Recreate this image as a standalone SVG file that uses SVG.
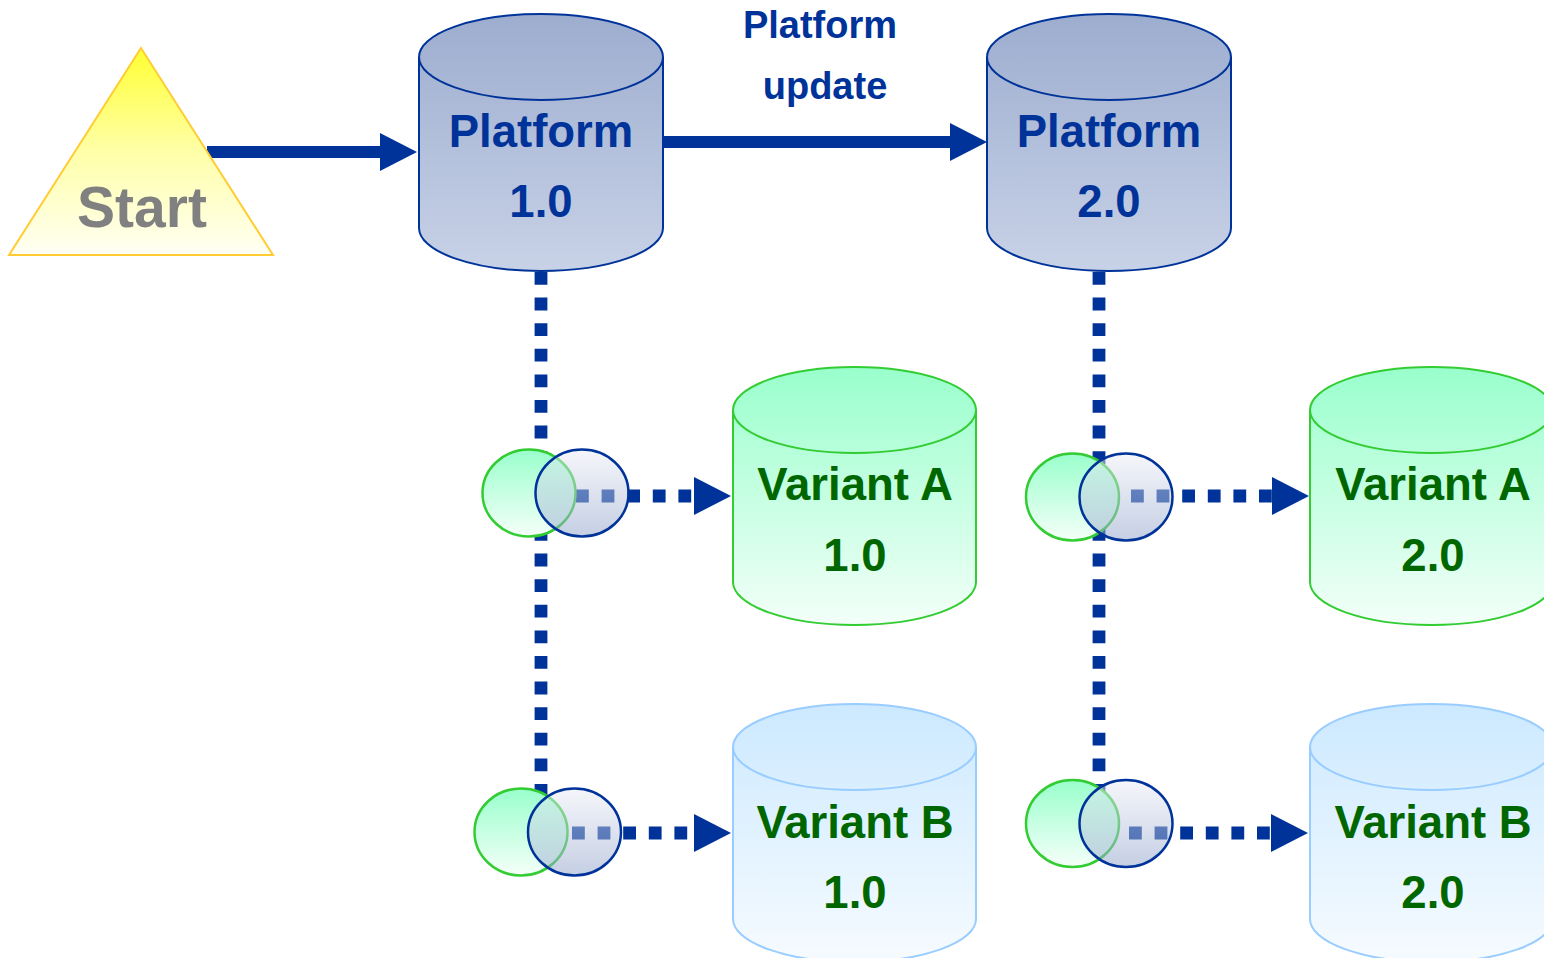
<svg xmlns="http://www.w3.org/2000/svg" width="1544" height="958" viewBox="0 0 1544 958">
<defs>
<linearGradient id="gPlat" x1="0" y1="0" x2="0" y2="1"><stop offset="0" stop-color="#9dadcf"/><stop offset="1" stop-color="#c8d2e7"/></linearGradient>
<linearGradient id="gGreen" x1="0" y1="0" x2="0" y2="1"><stop offset="0" stop-color="#99ffcc"/><stop offset="1" stop-color="#f3fff9"/></linearGradient>
<linearGradient id="gBlue" x1="0" y1="0" x2="0" y2="1"><stop offset="0" stop-color="#cce9ff"/><stop offset="1" stop-color="#f6fbff"/></linearGradient>
<linearGradient id="gStart" x1="0" y1="0" x2="0" y2="1"><stop offset="0" stop-color="#ffff33"/><stop offset="0.5" stop-color="#ffffa8"/><stop offset="1" stop-color="#fffff4"/></linearGradient>
<linearGradient id="gCircG" x1="0" y1="0" x2="0" y2="1"><stop offset="0" stop-color="#99ffcc"/><stop offset="1" stop-color="#f5fff9"/></linearGradient>
<linearGradient id="gCircB" x1="0" y1="0" x2="0" y2="1"><stop offset="0" stop-color="#eceef6"/><stop offset="1" stop-color="#8b9fc8"/></linearGradient>
<marker id="head" markerUnits="userSpaceOnUse" markerWidth="38" markerHeight="38" refX="0" refY="19" orient="auto" viewBox="0 0 38 38"><path d="M0,0 L37,19 L0,38 Z" fill="#003399"/></marker>
<style>
.plat .body{fill:url(#gPlat);stroke:#003399;stroke-width:2}
.plat .rim{fill:none;stroke:#003399;stroke-width:2}
.va .body{fill:url(#gGreen);stroke:#33cc33;stroke-width:2}
.va .rim{fill:none;stroke:#33cc33;stroke-width:2}
.vb .body{fill:url(#gBlue);stroke:#99ccff;stroke-width:2}
.vb .rim{fill:none;stroke:#99ccff;stroke-width:2}
.tp{font-family:"Liberation Sans",Arial,sans-serif;font-weight:bold;font-size:45.5px;fill:#003399;text-anchor:middle}
.tv{font-family:"Liberation Sans",Arial,sans-serif;font-weight:bold;font-size:45.5px;fill:#006600;text-anchor:middle}
.tl{font-family:"Liberation Sans",Arial,sans-serif;font-weight:bold;font-size:38px;fill:#003399;text-anchor:middle}
.solid{stroke:#003399;stroke-width:12;fill:none}
.dot{stroke:#003399;stroke-width:12.8;fill:none;stroke-dasharray:12.8 12.8}
.cg{fill:url(#gCircG);stroke:#33cc33;stroke-width:2.5}
.cb{fill:url(#gCircB);fill-opacity:0.5;stroke:#003399;stroke-width:2.5}
</style>
</defs>
<rect width="1544" height="958" fill="#ffffff"/>

<g id="connectors">
<line class="solid" x1="207" y1="152" x2="380" y2="152" marker-end="url(#head)"/>
<line class="solid" x1="663" y1="142" x2="950" y2="142" marker-end="url(#head)"/>
<line class="dot" x1="541" y1="272" x2="541" y2="800"/>
<line class="dot" x1="1099" y1="272" x2="1099" y2="800"/>
<line class="dot" x1="576" y1="496" x2="694" y2="496" marker-end="url(#head)"/>
<line class="dot" x1="1131" y1="496" x2="1272" y2="496" marker-end="url(#head)"/>
<line class="dot" x1="572" y1="833" x2="694" y2="833" marker-end="url(#head)"/>
<line class="dot" x1="1129" y1="833" x2="1271" y2="833" marker-end="url(#head)"/>
</g>

<g id="label-update">
<text class="tl" x="820" y="38">Platform</text>
<text class="tl" x="825" y="99">update</text>
</g>

<g id="start">
<polygon points="141,48 9,255 273,255" fill="url(#gStart)" stroke="#ffcc33" stroke-width="2"/>
<text x="142" y="227" font-family="'Liberation Sans',Arial,sans-serif" font-weight="bold" font-size="57" fill="#808080" text-anchor="middle">Start</text>
</g>

<g id="platform-1" class="plat">
<path class="body" d="M419,57 A122,43 0 0 1 663,57 L663,228 A122,43 0 0 1 419,228 Z"/>
<path class="rim" d="M419,57 A122,43 0 0 0 663,57"/>
<text class="tp" x="541" y="147">Platform</text>
<text class="tp" x="541" y="217">1.0</text>
</g>

<g id="platform-2" class="plat">
<path class="body" d="M987,57 A122,43 0 0 1 1231,57 L1231,228 A122,43 0 0 1 987,228 Z"/>
<path class="rim" d="M987,57 A122,43 0 0 0 1231,57"/>
<text class="tp" x="1109" y="147">Platform</text>
<text class="tp" x="1109" y="217">2.0</text>
</g>

<g id="variant-a-1" class="va">
<path class="body" d="M733,410 A121.5,43 0 0 1 976,410 L976,582 A121.5,43 0 0 1 733,582 Z"/>
<path class="rim" d="M733,410 A121.5,43 0 0 0 976,410"/>
<text class="tv" x="855" y="500">Variant A</text>
<text class="tv" x="855" y="571">1.0</text>
</g>

<g id="variant-a-2" class="va">
<path class="body" d="M1310,410 A121.5,43 0 0 1 1553,410 L1553,582 A121.5,43 0 0 1 1310,582 Z"/>
<path class="rim" d="M1310,410 A121.5,43 0 0 0 1553,410"/>
<text class="tv" x="1433" y="500">Variant A</text>
<text class="tv" x="1433" y="571">2.0</text>
</g>

<g id="variant-b-1" class="vb">
<path class="body" d="M733,747 A121.5,43 0 0 1 976,747 L976,919 A121.5,43 0 0 1 733,919 Z"/>
<path class="rim" d="M733,747 A121.5,43 0 0 0 976,747"/>
<text class="tv" x="855" y="838">Variant B</text>
<text class="tv" x="855" y="908">1.0</text>
</g>

<g id="variant-b-2" class="vb">
<path class="body" d="M1310,747 A121.5,43 0 0 1 1553,747 L1553,919 A121.5,43 0 0 1 1310,919 Z"/>
<path class="rim" d="M1310,747 A121.5,43 0 0 0 1553,747"/>
<text class="tv" x="1433" y="838">Variant B</text>
<text class="tv" x="1433" y="908">2.0</text>
</g>

<g id="join-a-1">
<ellipse class="cg" cx="529" cy="493" rx="46.5" ry="43.5"/>
<ellipse class="cb" cx="582" cy="493" rx="46.5" ry="43.5"/>
</g>
<g id="join-a-2">
<ellipse class="cg" cx="1072.5" cy="497" rx="46.5" ry="43.5"/>
<ellipse class="cb" cx="1126" cy="497" rx="46.5" ry="43.5"/>
</g>
<g id="join-b-1">
<ellipse class="cg" cx="521" cy="832" rx="46.5" ry="43.5"/>
<ellipse class="cb" cx="574.5" cy="832" rx="46.5" ry="43.5"/>
</g>
<g id="join-b-2">
<ellipse class="cg" cx="1072.5" cy="823.5" rx="46.5" ry="43.5"/>
<ellipse class="cb" cx="1126" cy="823.5" rx="46.5" ry="43.5"/>
</g>
</svg>
